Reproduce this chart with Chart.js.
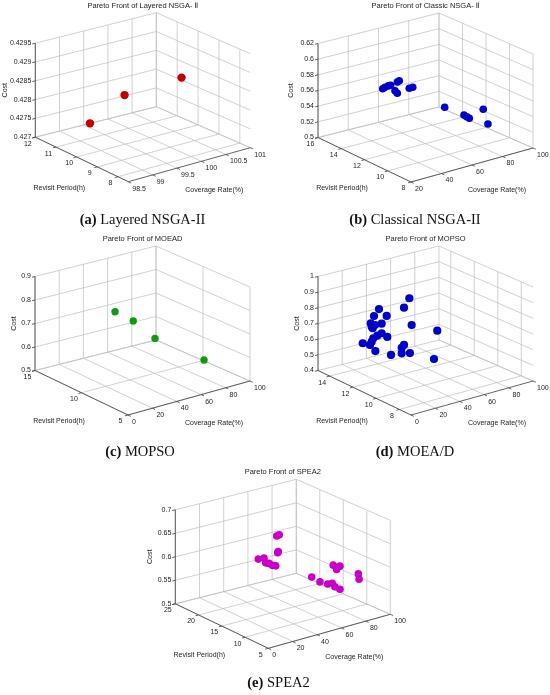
<!DOCTYPE html>
<html><head><meta charset="utf-8">
<script src="https://cdn.jsdelivr.net/npm/chart.js@4.4.1/dist/chart.umd.min.js"></script>
<style>
html,body{margin:0;padding:0;background:#fff;}
#wrap{position:relative;width:550px;height:695px;overflow:hidden;background:#fff;}
#wrap canvas{position:absolute;}
.cap{position:absolute;font-family:"Liberation Serif","Times New Roman",serif;font-size:14.5px;color:#111;white-space:nowrap;transform:translate(-50%,-50%);line-height:1;}
</style></head><body><div id="wrap"></div>
<script>
// ---------- DATA ----------
// (a) Layered NSGA-II
const aCoverage = [98.86, 99.38, 100.36];
const aRevisit  = [10.2, 9.75, 9.3];
const aCost     = [0.42772, 0.42841, 0.42865];
const aCoverageTicks = [98.5, 99, 99.5, 100, 100.5, 101];
const aRevisitTicks  = [8, 9, 10, 11, 12];
const aCostTicks     = [0.427, 0.4275, 0.428, 0.4285, 0.429, 0.4295];
const aCoverageRange = [98.5, 101];
const aRevisitRange  = [7.5, 12];
const aCostRange     = [0.427, 0.4295];

// (b) Classical NSGA-II
const bCoverage = [44.3, 45.8, 48.0, 49.5, 53.9, 55.2, 52.4, 53.9, 61.8, 64.1, 72.8, 85.5, 87.3, 89.0, 92.0, 95.1];
const bRevisit  = [13.6, 13.6, 13.6, 13.6, 13.6, 13.6, 13.6, 13.6, 13.6, 13.6, 12, 12, 12, 12, 11.2, 11.2];
const bCost     = [0.5671, 0.5682, 0.5688, 0.5688, 0.5708, 0.5718, 0.5605, 0.5564, 0.5588, 0.5589, 0.5398, 0.5234, 0.5203, 0.5174, 0.5326, 0.5122];
const bCoverageTicks = [20, 40, 60, 80, 100];
const bRevisitTicks  = [8, 10, 12, 14, 16];
const bCostTicks     = [0.5, 0.52, 0.54, 0.56, 0.58, 0.6, 0.62];
const bCoverageRange = [20, 100];
const bRevisitRange  = [8, 16];
const bCostRange     = [0.5, 0.62];

// (c) MOPSO (chart titled MOEAD)
const cCoverage = [35.3, 42.6, 52.8, 77.7];
const cRevisit  = [11, 10, 9, 7];
const cCost     = [0.778, 0.747, 0.677, 0.586];
const cCoverageTicks = [0, 20, 40, 60, 80, 100];
const cRevisitTicks  = [5, 10, 15];
const cCostTicks     = [0.5, 0.6, 0.7, 0.8, 0.9];
const cCoverageRange = [0, 100];
const cRevisitRange  = [5, 15];
const cCostRange     = [0.5, 0.9];

// (d) MOEA/D (chart titled MOPSO)
const dCoverage = [44.6, 40.2, 19.6, 15.5, 25.9, 12.8, 13.6, 16.3, 21.8, 14.4, 46.5, 67.6, 21.8, 18.2, 26.4, 14.9, 13.6, 6.2, 12.2, 40.2, 38.3, 16.6, 38.3, 45.1, 29.5, 64.9];
const dRevisit  = [11.8, 11.8, 11.8, 11.8, 11.8, 11.8, 11.8, 11.8, 11.8, 11.8, 11.8, 11.8, 11.8, 11.8, 11.8, 11.8, 11.8, 11.8, 11.8, 11.8, 11.8, 11.8, 11.8, 11.8, 11.8, 11.8];
const dCost     = [0.884, 0.833, 0.866, 0.830, 0.809, 0.789, 0.765, 0.771, 0.768, 0.754, 0.709, 0.630, 0.707, 0.699, 0.674, 0.689, 0.670, 0.675, 0.652, 0.595, 0.581, 0.604, 0.545, 0.533, 0.553, 0.455];
const dCoverageTicks = [0, 20, 40, 60, 80, 100];
const dRevisitTicks  = [8, 10, 12, 14];
const dCostTicks     = [0.4, 0.5, 0.6, 0.7, 0.8, 0.9, 1];
const dCoverageRange = [0, 100];
const dRevisitRange  = [7, 15];
const dCostRange     = [0.4, 1];

// (e) SPEA2
const eCoverage = [60.6, 62.7, 61.4, 61.9, 45.4, 50.1, 51.5, 54.2, 57.0, 59.8, 76.3, 79.1, 81.8, 96.9, 97.5, 58.6, 65.4, 71.7, 75.5, 77.7, 81.8];
const eRevisit  = [19, 19, 19, 19, 19, 19, 19, 19, 19, 19, 11, 11, 11, 11, 11, 11, 11, 11, 11, 11, 11];
const eCost     = [0.632, 0.633, 0.596, 0.598, 0.593, 0.592, 0.581, 0.578, 0.572, 0.569, 0.595, 0.584, 0.589, 0.562, 0.550, 0.582, 0.567, 0.558, 0.557, 0.548, 0.540];
const eCoverageTicks = [0, 20, 40, 60, 80, 100];
const eRevisitTicks  = [5, 10, 15, 20, 25];
const eCostTicks     = [0.5, 0.55, 0.6, 0.65, 0.7];
const eCoverageRange = [0, 100];
const eRevisitRange  = [5, 25];
const eCostRange     = [0.5, 0.7];

// ---------- LAYOUT ----------
const GEO = {R: [122, -34], L: [-93, -44.5], K: [-1, 3.5], H: 94};
function proj(F, nx, ny, nz) {
  return {
    x: F[0] + nx * GEO.R[0] + ny * GEO.L[0] + nx * ny * GEO.K[0],
    y: F[1] + nx * GEO.R[1] + ny * GEO.L[1] + nx * ny * GEO.K[1] - nz * GEO.H
  };
}
const norm = (v, r) => (v - r[0]) / (r[1] - r[0]);

const panels = [
  {rect: [0, 0, 275, 232], F: [128.3, 181.7], costDx: -123.3, color: '#c40000', r: 4.2,
   title: 'Pareto Front of Layered NSGA- Ⅱ',
   cov: aCoverage, rev: aRevisit, cost: aCost, covTicks: aCoverageTicks, revTicks: aRevisitTicks, costTicks: aCostTicks,
   covRange: aCoverageRange, revRange: aRevisitRange, costRange: aCostRange},
  {rect: [275, 0, 275, 232], F: [411, 182], costDx: -119.5, color: '#0000c8', r: 3.8,
   title: 'Pareto Front of Classic NSGA- Ⅱ',
   cov: bCoverage, rev: bRevisit, cost: bCost, covTicks: bCoverageTicks, revTicks: bRevisitTicks, costTicks: bCostTicks,
   covRange: bCoverageRange, revRange: bRevisitRange, costRange: bCostRange},
  {rect: [0, 232, 275, 232], F: [128, 415], costDx: -114, color: '#109a10', r: 3.7,
   title: 'Pareto Front of MOEAD',
   cov: cCoverage, rev: cRevisit, cost: cCost, covTicks: cCoverageTicks, revTicks: cRevisitTicks, costTicks: cCostTicks,
   covRange: cCoverageRange, revRange: cRevisitRange, costRange: cCostRange},
  {rect: [275, 232, 275, 232], F: [411, 415], costDx: -114.3, color: '#0000c8', r: 4.1,
   title: 'Pareto Front of MOPSO',
   cov: dCoverage, rev: dRevisit, cost: dCost, covTicks: dCoverageTicks, revTicks: dRevisitTicks, costTicks: dCostTicks,
   covRange: dCoverageRange, revRange: dRevisitRange, costRange: dCostRange},
  {rect: [137, 464, 276, 231], F: [268.3, 648.3], costDx: -118.3, color: '#c800c8', r: 3.8,
   title: 'Pareto Front of SPEA2',
   cov: eCoverage, rev: eRevisit, cost: eCost, covTicks: eCoverageTicks, revTicks: eRevisitTicks, costTicks: eCostTicks,
   covRange: eCoverageRange, revRange: eRevisitRange, costRange: eCostRange}
];

const captions = [
  {x: 142.5, y: 219, tag: '(a)', text: 'Layered NSGA-II'},
  {x: 415, y: 219, tag: '(b)', text: 'Classical NSGA-II'},
  {x: 140, y: 451, tag: '(c)', text: 'MOPSO'},
  {x: 415, y: 451, tag: '(d)', text: 'MOEA/D'},
  {x: 278.5, y: 682, tag: '(e)', text: 'SPEA2'}
];

const FONT = '"Liberation Sans", Arial, "DejaVu Sans", "Noto Sans CJK SC", sans-serif';

const box3d = {
  id: 'box3d',
  beforeDatasetsDraw(chart, args, cfg) {
    const ctx = chart.ctx, sx = chart.scales.x, sy = chart.scales.y;
    const P = (nx, ny, nz) => { const p = proj(cfg.F, nx, ny, nz); return [sx.getPixelForValue(p.x), sy.getPixelForValue(p.y)]; };
    const Q = (x, y) => [sx.getPixelForValue(x), sy.getPixelForValue(y)];
    const seg = (a, b) => { ctx.moveTo(a[0], a[1]); ctx.lineTo(b[0], b[1]); };
    const nC = v => norm(v, cfg.covRange), nR = v => norm(v, cfg.revRange), nZ = v => norm(v, cfg.costRange);
    ctx.save();
    // grid on back walls and floor
    ctx.strokeStyle = '#bdbdbd'; ctx.lineWidth = 0.7; ctx.beginPath();
    cfg.costTicks.forEach(t => { const z = nZ(t); seg(P(0, 1, z), P(1, 1, z)); seg(P(1, 1, z), P(1, 0, z)); });
    cfg.covTicks.forEach(t => { const x = nC(t); seg(P(x, 1, 0), P(x, 1, 1)); seg(P(x, 0, 0), P(x, 1, 0)); });
    cfg.revTicks.forEach(t => { const y = nR(t); seg(P(1, y, 0), P(1, y, 1)); seg(P(0, y, 0), P(1, y, 0)); });
    ctx.stroke();
    // axis lines and ticks
    ctx.strokeStyle = '#3c3c3c'; ctx.lineWidth = 0.8; ctx.beginPath();
    seg(P(0, 0, 0), P(1, 0, 0)); seg(P(0, 0, 0), P(0, 1, 0)); seg(P(0, 1, 0), P(0, 1, 1));
    cfg.covTicks.forEach(t => { const x = nC(t); seg(P(x, 0, 0), P(x, -0.03, 0)); });
    cfg.revTicks.forEach(t => { const y = nR(t); seg(P(0, y, 0), P(-0.025, y, 0)); });
    cfg.costTicks.forEach(t => { const z = nZ(t); seg(P(0, 1, z), P(-0.025, 1, z)); });
    ctx.stroke();
    // tick labels
    ctx.fillStyle = '#1c1c1c'; ctx.font = '7px ' + FONT; ctx.textBaseline = 'middle';
    ctx.textAlign = 'right';
    cfg.costTicks.forEach(t => { const p = P(0, 1, nZ(t)); ctx.fillText(String(t), p[0] - 4, p[1]); });
    ctx.textAlign = 'center';
    cfg.revTicks.forEach(t => { const p = P(0, nR(t), 0); ctx.fillText(String(t), p[0] - 7.5, p[1] + 6.5); });
    ctx.textAlign = 'left';
    cfg.covTicks.forEach(t => { const p = P(nC(t), 0, 0); ctx.fillText(String(t), p[0] + 4, p[1] + 7); });
    // axis titles
    ctx.textAlign = 'center';
    let q = Q(cfg.F[0] - 69, cfg.F[1] + 6.5); ctx.fillText('Revisit Period(h)', q[0], q[1]);
    q = Q(cfg.F[0] + 86, cfg.F[1] + 8.5); ctx.fillText('Coverage Rate(%)', q[0], q[1]);
    const lz = P(0, 1, 0.5);
    q = Q(cfg.F[0] + cfg.costDx, 0);
    ctx.save(); ctx.translate(q[0], lz[1]); ctx.rotate(-Math.PI / 2); ctx.fillText('Cost', 0, 0); ctx.restore();
    // chart title
    ctx.font = '7.5px ' + FONT;
    q = Q(cfg.F[0] + 14.5, cfg.F[1] - 176); ctx.fillText(cfg.title, q[0], q[1]);
    ctx.restore();
  }
};

const wrap = document.getElementById('wrap');
panels.forEach(cfg => {
  const [left, top, w, h] = cfg.rect;
  const cv = document.createElement('canvas');
  cv.style.left = left + 'px'; cv.style.top = top + 'px';
  cv.style.width = w + 'px'; cv.style.height = h + 'px';
  cv.width = w; cv.height = h;
  wrap.appendChild(cv);
  const pts = cfg.cov.map((c, i) => proj(cfg.F, norm(c, cfg.covRange), norm(cfg.rev[i], cfg.revRange), norm(cfg.cost[i], cfg.costRange)));
  new Chart(cv, {
    type: 'scatter',
    data: {datasets: [{data: pts, backgroundColor: cfg.color, borderColor: cfg.color, borderWidth: 0,
      pointRadius: cfg.r, pointHoverRadius: cfg.r}]},
    options: {
      responsive: false, animation: false, events: [],
      layout: {padding: 0, autoPadding: false},
      scales: {
        x: {type: 'linear', display: false, min: left, max: left + w},
        y: {type: 'linear', display: false, min: top, max: top + h, reverse: true}
      },
      plugins: {legend: {display: false}, tooltip: {enabled: false}, title: {display: false}, box3d: cfg}
    },
    plugins: [box3d]
  });
});

captions.forEach(c => {
  const d = document.createElement('div');
  d.className = 'cap';
  d.style.left = c.x + 'px'; d.style.top = c.y + 'px';
  const b = document.createElement('b'); b.textContent = c.tag;
  d.appendChild(b); d.appendChild(document.createTextNode(' ' + c.text));
  wrap.appendChild(d);
});
</script></body></html>
